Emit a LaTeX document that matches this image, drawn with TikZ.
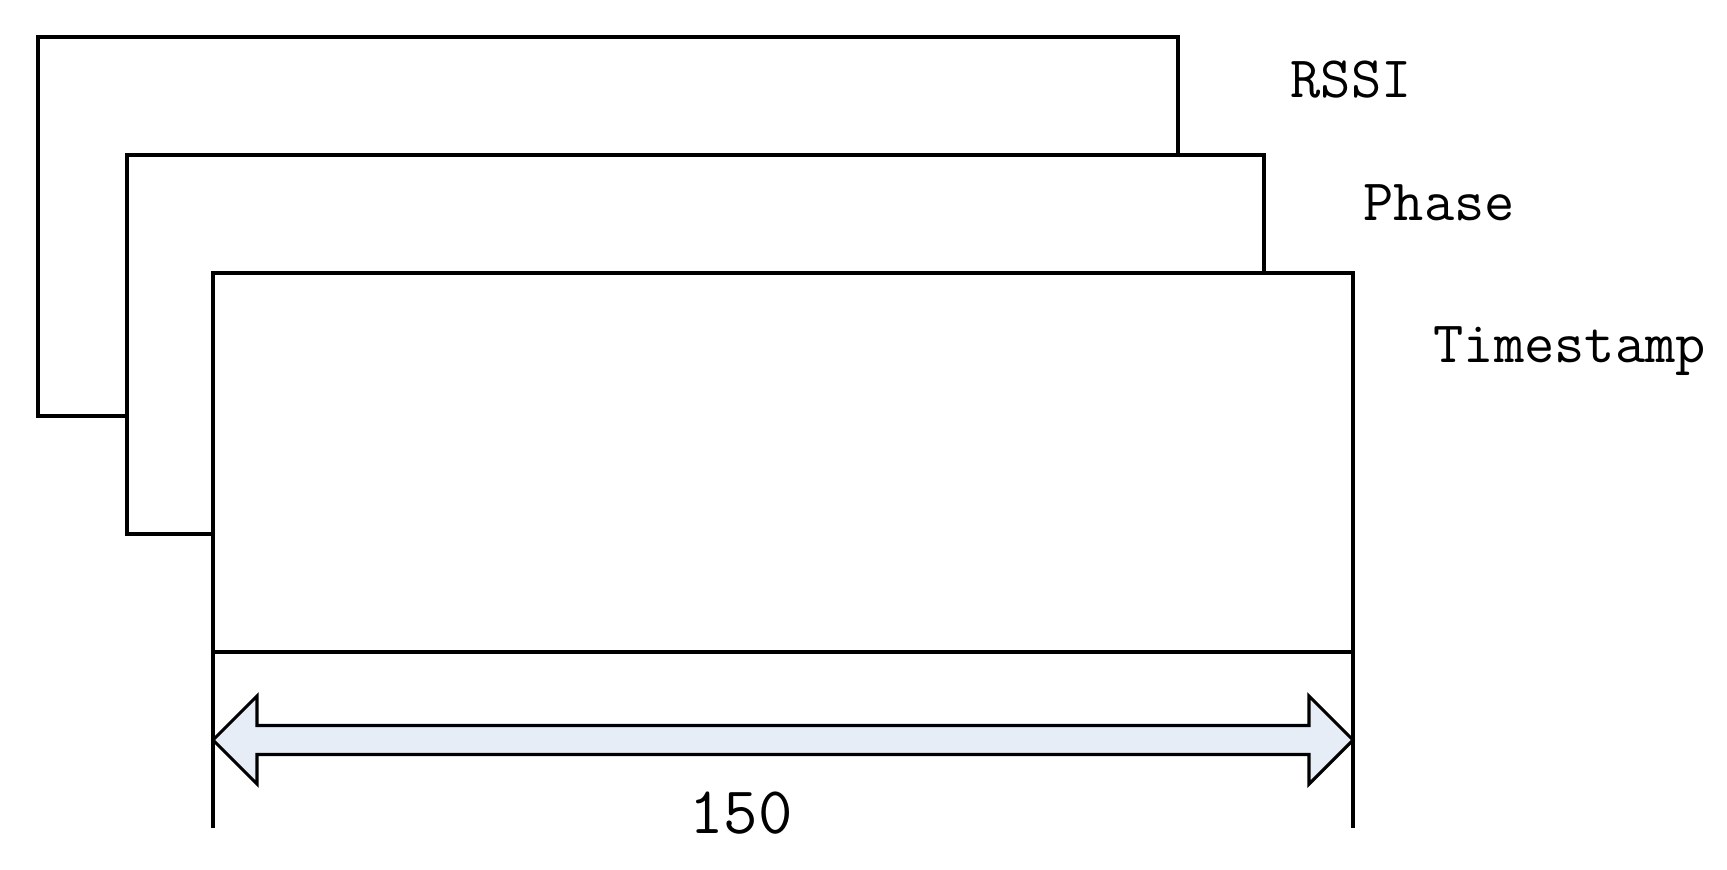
\documentclass[tikz,border=0pt]{standalone}
\usepackage{fontspec}
\usepackage{xcolor}
\usepackage{tikz}
\usetikzlibrary{calc}
\definecolor{arrowfill}{HTML}{E6EDF7}
\tikzset{
  frame/.style={draw=black, fill=white, line width=0.9pt},
  edge/.style={draw=black, line width=0.9pt},
  lab/.style={font=\ttfamily\fontsize{16.7}{18}\selectfont, inner sep=0pt, anchor=base west},
  num/.style={font=\ttfamily\fontsize{19}{21}\selectfont, inner sep=0pt},
  arr/.style={draw=black, fill=arrowfill, line width=0.9pt, line join=miter},
}
\begin{document}
\begin{tikzpicture}[x=0.01cm, y=-0.01cm]
  \useasboundingbox (0,0) rectangle (1727,870);
  % three stacked frames, back to front
  \draw[frame] (38,37) rectangle (1178,416);
  \draw[frame] (127,155) rectangle (1264,534);
  \draw[frame] (213,273) rectangle (1353,652);
  \coordinate (bl) at (213,652);
  \coordinate (br) at (1353,652);
  \coordinate (L) at (213,740);
  \coordinate (R) at (1353,740);
  \draw[edge] (bl) -- ++(0,176);
  \draw[edge] (br) -- ++(0,176);
  % double arrow
  \draw[arr] (L) -- ++(44,-44) -- ++(0,29.5) -- ($(R)+(-44,-14.5)$)
    -- ++(0,-29.5) -- (R) -- ++(-44,44) -- ++(0,-29.5)
    -- ($(L)+(44,14.5)$) -- ++(0,29.5) -- cycle;
  \node[lab] (rssi) at (1290,98) {RSSI};
  \node[lab] (phase) at (1363,221) {Phase};
  \node[lab] (time) at (1433,362) {Timestamp};
  \node[num] (len) at (741,813) {150};
\end{tikzpicture}
\end{document}
